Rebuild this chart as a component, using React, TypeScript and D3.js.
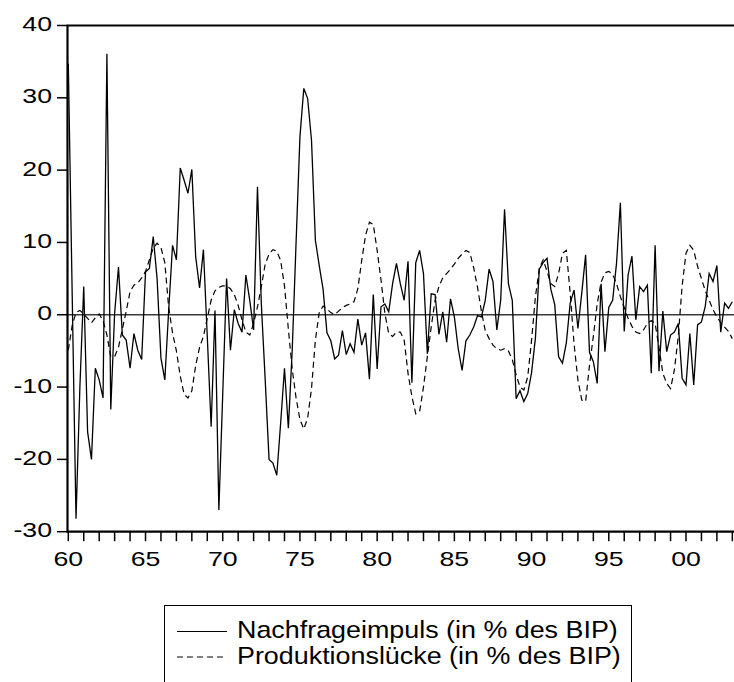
import React from "react";
import * as d3 from "d3";

// Quarterly observations starting 1960Q1
const startYear = 1960;
const nachfrageimpuls: number[] = [
  34.7, 3, -28.2, -10, 3.9, -16.2, -20, -7.4, -9, -11.5,
  36.1, -13.1, 0.2, 6.6, -2.8, -3.5, -7.4, -2.6, -4.9, -6.2,
  5.9, 6.4, 10.8, 5, -6, -9, 0.6, 9.6, 7.6, 20.3,
  18.6, 16.8, 20.1, 8.0, 3.7, 9.0, -3, -15.5, 0.6, -27,
  -11, 5.0, -4.9, 0.7, -1.2, -2.4, 5.5, 2.0, -2.1, 17.7,
  1.5, -9, -20.0, -20.5, -22.2, -15, -7.4, -15.7, -4.9, 10,
  24.6, 31.3, 29.9, 24.1, 10.3, 6.8, 3.5, -2.5, -3.6, -6.1,
  -5.6, -2.2, -5.5, -4.0, -5.2, -0.6, -4.2, -2.5, -8.9, 2.8,
  -7.5, 1.1, 1.5, 0.4, 4.3, 7.1, 4.3, 2.0, 7.4, -9.4,
  7.2, 8.9, 5.7, -5.4, 2.9, 2.8, -2.7, 0.4, -3.8, 2.2,
  -0.3, -4.7, -7.7, -3.6, -2.8, -1.7, -0.1, -0.3, 2.0, 6.3,
  4.6, -2.1, 2.0, 14.6, 4.3, 2.0, -11.6, -10.5, -12.0, -10.9,
  -8, -3.2, 6.3, 7.2, 7.8, 3.5, 1.4, -5.8, -6.7, -3.9,
  1.6, 3.4, -1.9, 3, 8.3, -5.2, -6.5, -9.5, 4.3, -5.1,
  1.0, 2.0, 7.1, 15.5, -2.3, 5.5, 8.1, -0.7, 3.9, 3.2,
  4.1, -8.1, 9.6, -7.8, 0.5, -5.1, -2.8, -2.4, -1.2, -8.8,
  -9.7, -2.6, -9.7, -1.4, -1.0, 1.2, 5.7, 4.6, 6.8, -2.4,
  1.6, 0.9, 1.8,
];
const produktionsluecke: number[] = [
  -4.9, -1.5, 0.3, 0.6, 0.1, -0.5, -1.1, -0.4, 0.1, -0.8,
  -2.8, -5.8, -5.8, -4.5, -2.0, 0.5, 3.2, 4.1, 4.4, 5.1,
  6.0, 7.6, 9.2, 9.9, 9.3, 7.2, 1.0, -2.5, -5, -8.5,
  -11, -11.5, -10.5, -7, -4.5, -3, -0.5, 2.0, 3.3, 3.8,
  4.0, 4.0, 3.6, 2.8, 1.3, -0.7, -2.4, -2.8, -1.2, 1.1,
  3.9, 7.0, 8.4, 9.0, 8.8, 7.5, 4, -2, -7.5, -11.5,
  -14.5, -15.8, -14.3, -10.2, -3.5, 0.3, 1.2, 0.8, 0.3, 0,
  0.5, 1, 1.3, 1.5, 1.8, 3.6, 7.5, 11.0, 12.8, 12.5,
  8.9, 4.8, 0.2, -2.6, -3.0, -2.4, -2.4, -3.5, -8.1, -11.3,
  -13.7, -13.4, -10, -5.8, -1.7, 2.0, 3.9, 5.1, 5.7, 6.3,
  7.0, 7.8, 8.4, 8.9, 8.6, 6.5, 3.8, 0.5, -2.2, -3.3,
  -4.2, -4.7, -4.9, -4.7, -5.0, -6.2, -8.3, -10, -10.4, -8.6,
  -3.5, 2.5, 6.4, 7.6, 6.0, 4.3, 3.9, 5.7, 8.5, 8.9,
  3, -4, -9, -11.8, -12, -7, -3, 1.5, 4.5, 5.8,
  6.0, 5.6, 4.3, 2.5, 1.0, -0.5, -1.6, -2.4, -2.6, -2.1,
  -1.2, -0.8, -1.2, -4.5, -8.1, -9.5, -10.2, -7.6, -3.0, 4,
  8.5, 9.6, 8.9, 6.7, 5, 3.3, 2.0, 0.7, -0.3, -1.1,
  -1.7, -2.3, -3.3,
];
const yTicks = [-30, -20, -10, 0, 10, 20, 30, 40];
const xLabelYears = [1960, 1965, 1970, 1975, 1980, 1985, 1990, 1995, 2000];
const legendLabels = [
  "Nachfrageimpuls (in % des BIP)",
  "Produktionslücke (in % des BIP)",
];

const W = 734;
const H = 682;
const FONT = "'Liberation Sans', Arial, sans-serif";
const TICK_FS = 21;
const TICK_SX = 1.27;
const LEG_FS = 24;
const LEG_SX = 1.12;

export default function App() {
  const left = 67.5;
  const top = 25.5;
  const bottom = 531.7;
  const x = d3.scaleLinear().domain([1960, 2000]).range([68.3, 686]);
  const y = d3.scaleLinear().domain([-30, 40]).range([bottom, top]);
  const rightEdge = x(2003.6);

  const line = d3
    .line<number>()
    .x((_, i) => x(startYear + i / 4))
    .y((d) => y(d));

  const minorYears = d3.range(1960, 2004);

  return (
    <svg
      width={W}
      height={H}
      style={{ position: "absolute", left: 0, top: 0, background: "#fff" }}
      fontFamily={FONT}
    >
      <defs>
        <clipPath id="plot">
          <rect x={left} y={top} width={rightEdge - left} height={bottom - top} />
        </clipPath>
      </defs>
      {/* zero line */}
      <line x1={left} x2={rightEdge} y1={y(0)} y2={y(0)} stroke="#3a3a3a" strokeWidth={1.6} />
      <g clipPath="url(#plot)">
        <path d={line(produktionsluecke) || ""} fill="none" stroke="#000" strokeWidth={1.2} strokeDasharray="6,4" />
        <path d={line(nachfrageimpuls) || ""} fill="none" stroke="#000" strokeWidth={1.3} />
      </g>
      {/* frame */}
      <path
        d={`M${rightEdge},${top} H${left} V${bottom} H${rightEdge}`}
        fill="none"
        stroke="#000"
        strokeWidth={2.2}
      />
      {/* y ticks */}
      {yTicks.map((t) => (
        <g key={t}>
          <line x1={57} x2={left} y1={y(t)} y2={y(t)} stroke="#000" strokeWidth={1.5} />
          <text
            transform={`translate(52,${y(t) + 5.5}) scale(${TICK_SX},1)`}
            textAnchor="end"
            fontSize={TICK_FS}
            fill="#000"
          >
            {t}
          </text>
        </g>
      ))}
      {/* x ticks */}
      {minorYears.map((yr) => (
        <line key={yr} x1={x(yr)} x2={x(yr)} y1={bottom} y2={bottom + 9.5} stroke="#000" strokeWidth={1.5} />
      ))}
      {xLabelYears.map((yr) => (
        <text
          key={yr}
          transform={`translate(${x(yr)},566) scale(${TICK_SX},1)`}
          textAnchor="middle"
          fontSize={TICK_FS}
          fill="#000"
        >
          {String(yr % 100).padStart(2, "0")}
        </text>
      ))}
      {/* legend */}
      <rect x={164.5} y={605.5} width={467} height={90} fill="none" stroke="#000" strokeWidth={1} />
      <line x1={177} x2={227} y1={631.5} y2={631.5} stroke="#000" strokeWidth={1.2} />
      <line x1={177} x2={227} y1={657} y2={657} stroke="#000" strokeWidth={1.2} strokeDasharray="6,4" />
      <text transform={`translate(237,638.3) scale(${LEG_SX},1)`} fontSize={LEG_FS} fill="#000">
        {legendLabels[0]}
      </text>
      <text transform={`translate(237,664.3) scale(${LEG_SX},1)`} fontSize={LEG_FS} fill="#000">
        {legendLabels[1]}
      </text>
    </svg>
  );
}
